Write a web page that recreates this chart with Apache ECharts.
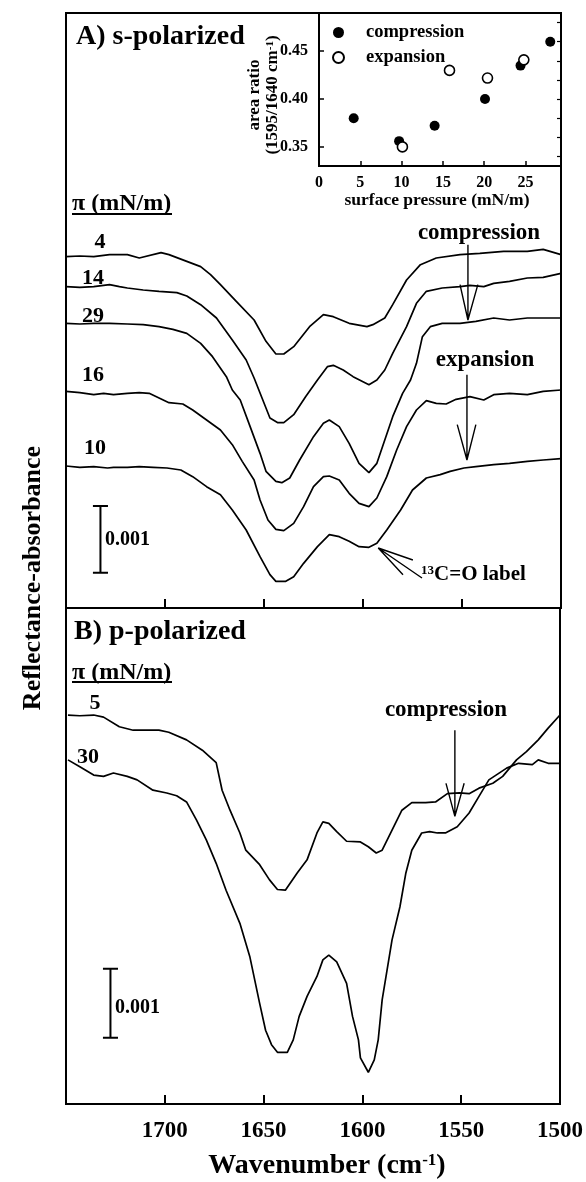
<!DOCTYPE html>
<html><head><meta charset="utf-8">
<script src="https://cdn.jsdelivr.net/npm/echarts@6/dist/echarts.min.js"></script>
<style>html,body{margin:0;padding:0;background:#fff}#c{width:586px;height:1182px}</style>
</head><body><div id="c"></div>
<script>
// ================= DATA =================
// Wavenumber axis (cm-1), reversed
const wnLabels = [1700, 1650, 1600, 1550, 1500];
// Spectra values: relative reflectance-absorbance in units of 1e-5 (100 = 0.001), vertically offset
// A) s-polarized
const sA4_wn  = [1750,1743,1736,1728,1719,1713,1702,1698,1689,1682,1677,1672,1664,1655,1649,1644,1640,1635,1627,1620,1615,1607,1598,1595,1589,1585,1578,1571,1563,1551,1541,1529,1517,1509,1500];
const sA4_val = [527,528,527,530,530,525,533,530,520,512,500,485,460,432,400,381,381,392,422,440,437,427,422,425,435,455,492,515,525,530,532,535,535,538,530];
const sA14_wn  = [1750,1743,1736,1731,1728,1723,1719,1711,1703,1694,1689,1682,1674,1666,1659,1655,1651,1647,1643,1640,1635,1629,1623,1618,1615,1610,1605,1597,1593,1589,1585,1578,1573,1568,1560,1551,1546,1539,1534,1526,1517,1509,1500];
const sA14_val = [482,481,482,484,485,482,480,477,475,473,468,455,435,402,372,345,315,285,278,278,290,317,342,362,364,357,347,335,342,357,382,422,457,475,480,482,484,482,487,490,495,496,502];
const sA29_wn  = [1750,1743,1736,1728,1719,1711,1703,1696,1689,1682,1676,1669,1666,1662,1657,1652,1649,1644,1641,1637,1632,1625,1620,1617,1612,1607,1602,1597,1593,1589,1585,1580,1576,1573,1570,1566,1560,1551,1543,1534,1526,1517,1509,1500];
const sA29_val = [427,426,427,427,426,425,422,418,412,397,377,347,327,312,272,232,205,190,188,195,222,257,277,282,272,247,217,203,217,252,287,322,342,367,407,422,427,427,430,435,432,435,435,435];
const sA16_wn  = [1750,1743,1736,1731,1726,1719,1713,1708,1703,1698,1691,1686,1679,1672,1666,1661,1655,1652,1648,1644,1640,1635,1630,1625,1620,1617,1612,1607,1602,1597,1593,1588,1583,1578,1573,1568,1563,1558,1553,1546,1539,1534,1526,1517,1509,1500];
const sA16_val = [325,323,320,322,320,322,323,322,315,308,306,297,282,267,245,220,192,162,132,118,116,127,152,182,197,198,192,172,157,152,165,197,237,272,297,311,307,306,313,317,312,320,322,320,325,327];
const sA10_wn  = [1750,1743,1736,1729,1726,1719,1713,1706,1699,1692,1686,1679,1672,1666,1659,1652,1647,1644,1639,1635,1630,1623,1617,1612,1607,1602,1597,1593,1588,1581,1575,1568,1561,1556,1549,1543,1534,1526,1517,1509,1500];
const sA10_val = [213,211,212,210,211,211,212,211,210,207,197,182,170,147,117,77,50,40,40,47,67,92,110,107,100,92,91,97,117,147,177,195,200,205,210,212,215,217,220,222,224];
// B) p-polarized
const pB5_wn  = [1749,1743,1736,1731,1723,1716,1711,1703,1698,1689,1681,1674,1671,1667,1662,1659,1652,1647,1643,1639,1633,1628,1623,1620,1617,1613,1608,1601,1597,1593,1590,1585,1580,1575,1568,1563,1557,1551,1546,1541,1534,1529,1522,1517,1511,1506,1500];
const pB5_val = [564,563,564,561,547,542,542,542,539,528,513,495,455,426,393,368,347,325,311,310,335,354,393,409,407,395,381,380,373,364,368,397,426,437,437,438,450,451,450,458,465,475,499,511,528,545,564];
const pB30_wn  = [1749,1743,1736,1731,1726,1719,1714,1706,1699,1694,1689,1684,1679,1674,1669,1662,1657,1652,1649,1646,1643,1638,1635,1632,1628,1623,1620,1617,1613,1608,1605,1602,1601,1597,1594,1592,1590,1585,1581,1578,1575,1570,1566,1562,1558,1552,1546,1541,1536,1527,1521,1514,1511,1506,1500];
const pB30_val = [499,489,477,475,480,475,470,455,451,447,438,412,383,349,310,262,214,146,107,86,75,75,93,127,156,185,209,216,206,175,127,93,67,46,64,93,151,238,286,335,368,393,395,393,393,402,422,446,470,487,494,492,499,494,494];
// Inset: area ratio (1595/1640) vs surface pressure (mN/m)
const compP = [4.2, 9.7, 14.0, 20.1, 24.4, 28.0];
const compR = [0.380, 0.356, 0.372, 0.400, 0.435, 0.460];
const expP  = [10.1, 15.8, 20.4, 24.8];
const expR  = [0.350, 0.430, 0.422, 0.441];
const insetXLabels = [0, 5, 10, 15, 20, 25];
const insetYLabels = [0.35, 0.40, 0.45];
const insetYMinor  = [0.34, 0.36, 0.38, 0.40, 0.42, 0.44, 0.46, 0.48];
// Annotation geometry in data units (wavenumber, 1e-5 absorbance)
const arrowA_comp = [[1547,545],[1547,432],[1551,485],[1547,432],[1542,485]];
const arrowA_exp  = [[1547.5,350],[1547.5,222],[1552.4,275],[1547.5,222],[1543,275]];
const arrowA_13C  = [[1570.2,45],[1592.3,90],[1574.8,72],[1592.3,90],[1579.8,50]];
const arrowB_comp = [[1553.2,542],[1553.2,417],[1557.7,465],[1553.2,417],[1548.5,465]];
const scaleA = [[1736.4,53],[1728.8,53],[1732.6,53],[1732.6,153],[1736.4,153],[1728.8,153]];
const scaleB = [[1731.3,96],[1723.7,96],[1727.5,96],[1727.5,196],[1731.3,196],[1723.7,196]];

// ================= CHART =================
const FONT = '"Liberation Serif","Times New Roman",serif';
const zip = (a, b) => a.map((v, i) => [v, b[i]]);
const chart = echarts.init(document.getElementById('c'), null, {renderer: 'canvas'});

function curve(wn, val, g) {
  return {type: 'line', xAxisIndex: g, yAxisIndex: g, data: zip(wn, val), showSymbol: false, symbol: 'none',
    lineStyle: {color: '#000', width: 1.7}, silent: true, animation: false, z: 3};
}
function anno(pts, g, w) {
  return {type: 'line', xAxisIndex: g, yAxisIndex: g, data: pts, showSymbol: false, symbol: 'none',
    lineStyle: {color: '#000', width: w || 1.4}, silent: true, animation: false, z: 4};
}
function T(x, y, text, size, align, extra) {
  const st = {text: text, font: 'bold ' + size + 'px ' + FONT, fill: '#000',
    align: align || 'left', verticalAlign: 'middle', textAlign: align || 'left', textVerticalAlign: 'middle'};
  if (extra && extra.rich) st.rich = extra.rich;
  const el = {type: 'text', x: x, y: y, z: 100, style: st};
  if (extra && extra.rotation) el.rotation = extra.rotation;
  return el;
}
const sup = (s) => ({sup: {fontSize: s, fontWeight: 'bold', fontFamily: FONT, verticalAlign: 'top', fill: '#000'}});
function L(x1, y1, x2, y2, w) {
  return {type: 'line', z: 100, shape: {x1: x1, y1: y1, x2: x2, y2: y2}, style: {stroke: '#000', lineWidth: w || 2}};
}

const axisFont = {fontFamily: FONT, fontWeight: 'bold', color: '#000'};
const option = {
  animation: false,
  backgroundColor: '#fff',
  grid: [
    {left: 66, top: 13, width: 495, height: 595, show: true, borderColor: '#000', borderWidth: 2, containLabel: false},
    {left: 66, top: 608, width: 495, height: 496, show: true, borderColor: '#000', borderWidth: 2, containLabel: false},
    {left: 319, top: 13, width: 242, height: 153, show: true, borderColor: '#000', borderWidth: 2, containLabel: false}
  ],
  xAxis: [
    {gridIndex: 0, type: 'value', inverse: true, min: 1500, max: 1750, interval: 50,
      axisLine: {show: false}, axisTick: {inside: true, length: 9, lineStyle: {color: '#000', width: 2}},
      axisLabel: {show: false}, splitLine: {show: false}},
    {gridIndex: 1, type: 'value', inverse: true, min: 1500, max: 1750, interval: 50,
      axisLine: {show: false}, axisTick: {inside: true, length: 9, lineStyle: {color: '#000', width: 2}},
      axisLabel: Object.assign({show: true, margin: 16, fontSize: 23, customValues: wnLabels,
        formatter: v => String(v)}, axisFont), splitLine: {show: false}},
    {gridIndex: 2, type: 'value', min: 0, max: 29.3, interval: 5,
      axisLine: {show: false}, axisTick: {inside: true, length: 5, customValues: insetXLabels, lineStyle: {color: '#000', width: 1.5}},
      axisLabel: Object.assign({customValues: insetXLabels, formatter: v => String(v), margin: 9, fontSize: 16}, axisFont),
      splitLine: {show: false}}
  ],
  yAxis: [
    {gridIndex: 0, type: 'value', min: 0, max: 892.5, show: false},
    {gridIndex: 1, type: 'value', min: 0, max: 719.2, show: false},
    {gridIndex: 2, type: 'value', min: 0.33, max: 0.49,
      axisLine: {show: false},
      axisTick: {inside: true, length: 5, customValues: insetYLabels, lineStyle: {color: '#000', width: 1.5}},
      axisLabel: Object.assign({customValues: insetYLabels, formatter: v => v.toFixed(2), margin: 11, fontSize: 16}, axisFont),
      splitLine: {show: false}},
    {gridIndex: 2, type: 'value', position: 'right', min: 0.33, max: 0.49,
      axisLine: {show: false},
      axisTick: {inside: true, length: 4, customValues: insetYMinor, lineStyle: {color: '#000', width: 1.2}},
      axisLabel: {show: false}, splitLine: {show: false}}
  ],
  legend: {
    data: ['compression', 'expansion'], orient: 'vertical', left: 327, top: 18,
    itemWidth: 11, itemHeight: 11, itemGap: 6, selectedMode: false,
    textStyle: {fontFamily: FONT, fontWeight: 'bold', fontSize: 18.5, color: '#000', padding: [0, 0, 0, 17]}
  },
  series: [
    curve(sA4_wn, sA4_val, 0), curve(sA14_wn, sA14_val, 0), curve(sA29_wn, sA29_val, 0),
    curve(sA16_wn, sA16_val, 0), curve(sA10_wn, sA10_val, 0),
    curve(pB5_wn, pB5_val, 1), curve(pB30_wn, pB30_val, 1),
    anno(arrowA_comp, 0), anno(arrowA_exp, 0), anno(arrowA_13C, 0), anno(scaleA, 0, 2),
    anno(arrowB_comp, 1), anno(scaleB, 1, 2),
    {name: 'compression', type: 'scatter', xAxisIndex: 2, yAxisIndex: 2, data: zip(compP, compR),
      symbol: 'circle', symbolSize: 10, itemStyle: {color: '#000', opacity: 1}, silent: true, z: 5},
    {name: 'expansion', type: 'scatter', xAxisIndex: 2, yAxisIndex: 3, data: zip(expP, expR),
      symbol: 'circle', symbolSize: 10, itemStyle: {color: '#fff', borderColor: '#000', borderWidth: 1.6, opacity: 1}, silent: true, z: 6}
  ],
  graphic: [
    T(76, 37, 'A) s-polarized', 28),
    T(74, 632, 'B) p-polarized', 28),
    T(72, 204, 'π (mN/m)', 24), L(72, 214, 172, 214, 2),
    T(72, 673, 'π (mN/m)', 24), L(72, 682, 172, 682, 2),
    T(100, 242, '4', 22, 'center'), T(93, 278, '14', 22, 'center'), T(93, 316, '29', 22, 'center'),
    T(93, 375, '16', 22, 'center'), T(95, 448, '10', 22, 'center'),
    T(95, 703, '5', 22, 'center'), T(88, 757, '30', 22, 'center'),
    T(479, 233, 'compression', 23, 'center'),
    T(485, 360, 'expansion', 23, 'center'),
    T(446, 710, 'compression', 23, 'center'),
    T(105, 540, '0.001', 20), T(115, 1008, '0.001', 20),
    T(421, 575, '{sup|13}C=O label', 21, 'left', {rich: sup(13)}),
    T(327, 1166, 'Wavenumber (cm{sup|-1})', 28, 'center', {rich: sup(17)}),
    T(33, 578, 'Reflectance-absorbance', 26, 'center', {rotation: Math.PI / 2}),
    T(255, 95, 'area ratio', 17, 'center', {rotation: Math.PI / 2}),
    T(273, 95, '(1595/1640 cm{sup|-1})', 17, 'center', {rotation: Math.PI / 2, rich: sup(11)}),
    T(437, 200, 'surface pressure (mN/m)', 17.5, 'center')
  ]
};
chart.setOption(option);
</script></body></html>
